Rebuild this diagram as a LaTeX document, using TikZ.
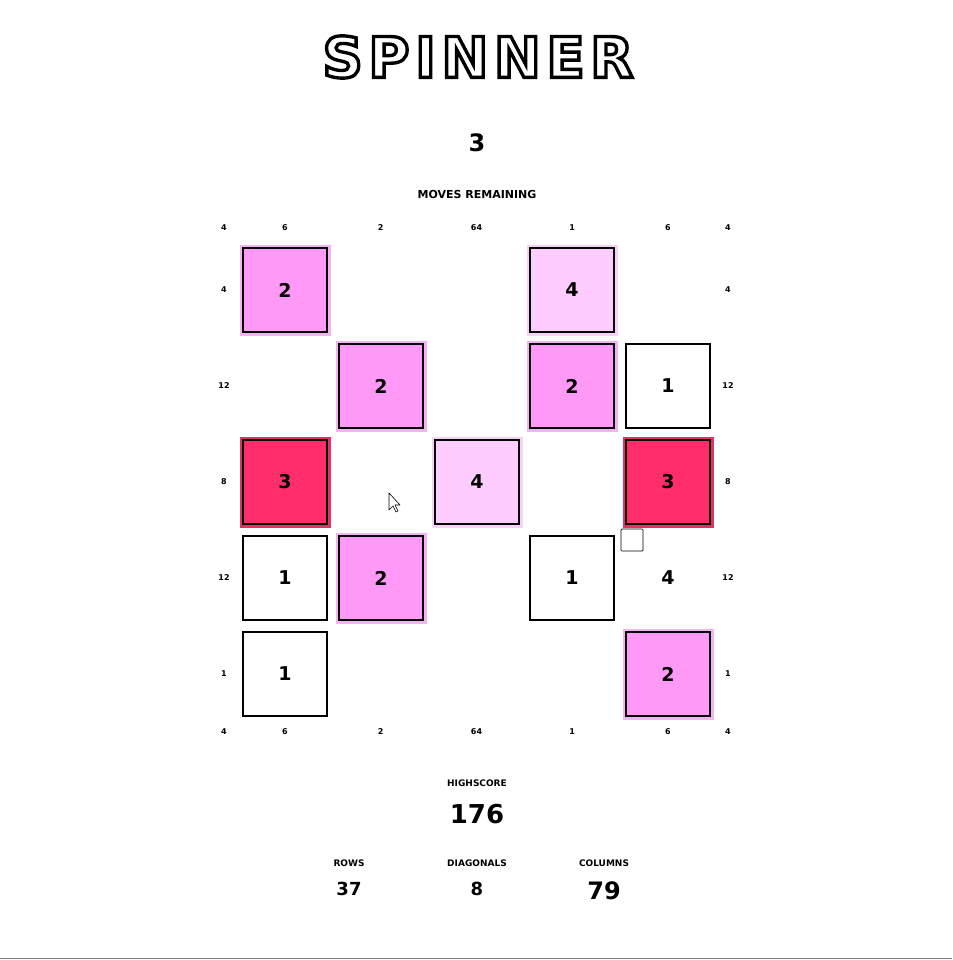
\documentclass[tikz,border=0pt]{standalone}
\usepackage{fontspec}
\setmainfont{DejaVu Sans}
\newfontfamily\titlefont[FakeBold=6,LetterSpace=10]{DejaVu Sans Bold}
\begin{document}
\begin{tikzpicture}[x=1pt,y=-1pt,
 lab/.style={font=\bfseries\fontsize{8}{8}\selectfont},
 tile/.style={draw=black,line width=2pt,minimum size=84pt,inner sep=0pt,font=\bfseries\fontsize{19}{19}\selectfont},
 pk/.style={tile,fill=pinkA,preaction={draw=pinkG,line width=7pt,rounded corners=2pt}},
 lp/.style={tile,fill=pinkL,preaction={draw=pinkLG,line width=7pt,rounded corners=2pt}},
 rd/.style={tile,fill=redA,preaction={draw=redG,line width=7pt,rounded corners=2pt}},
 wt/.style={tile,fill=white}]
\definecolor{pinkA}{HTML}{FF99F7}
\definecolor{pinkG}{HTML}{F2B3EE}
\definecolor{pinkL}{HTML}{FFCCFF}
\definecolor{pinkLG}{HTML}{F7D2F7}
\definecolor{redA}{HTML}{FF2E6B}
\definecolor{redG}{HTML}{E3325F}
\useasboundingbox (0,0) rectangle (952,960);
\fill[white] (0,0) rectangle (952,960);
% title
\node[font=\titlefont\fontsize{56}{56}\selectfont] (title) at (478,57) {\color{white}\special{pdf:code 0 0 0 RG}SPINNER};
\node[font=\bfseries\fontsize{24}{24}\selectfont] (moves) at (477,143) {3};
\node[font=\bfseries\fontsize{11}{11}\selectfont] (movesl) at (477,194) {MOVES REMAINING};
% edge labels
\foreach \t [count=\i] in {6,2,64,1,6}{
 \pgfmathsetmacro\xx{285+95.75*(\i-1)}
 \node[lab] (t\i) at (\xx,228) {\t};
 \node[lab] (b\i) at (\xx,732) {\t};}
\foreach \t [count=\i] in {4,12,8,12,1}{
 \pgfmathsetmacro\yy{290+96*(\i-1)}
 \node[lab] (l\i) at (224,\yy) {\t};
 \node[lab] (r\i) at (728,\yy) {\t};}
\node[lab] (c1) at (224,228) {4};
\node[lab] (c2) at (728,228) {4};
\node[lab] (c3) at (224,732) {4};
\node[lab] (c4) at (728,732) {4};
% tiles
\node[pk] (a11) at (285,290) {2};
\node[lp] (a14) at (572,290) {4};
\node[pk] (a22) at (381,386) {2};
\node[pk] (a24) at (572,386) {2};
\node[wt] (a25) at (668,386) {1};
\node[rd] (a31) at (285,482) {3};
\node[lp] (a33) at (477,482) {4};
\node[rd] (a35) at (668,482) {3};
\node[wt] (a41) at (285,578) {1};
\node[pk] (a42) at (381,578) {2};
\node[wt] (a44) at (572,578) {1};
\node[font=\bfseries\fontsize{19}{19}\selectfont] (a45) at (668,578) {4};
\node[draw=black,line width=0.7pt,minimum size=22pt,inner sep=0pt,rounded corners=1pt] (sq) at (632,540) {};
\node[wt] (a51) at (285,674) {1};
\node[pk] (a55) at (668,674) {2};
% cursor
\draw[fill=white,line width=0.6pt,line join=round] (389,493) -- (389,510) -- (393,506) -- (396,512) -- (398,511) -- (395,505) -- (400,505) -- cycle;
% stats
\node[font=\bfseries\fontsize{9}{9}\selectfont] (hsl) at (477,783) {HIGHSCORE};
\node[font=\bfseries\fontsize{26}{26}\selectfont] (hs) at (477,814) {176};
\node[font=\bfseries\fontsize{9}{9}\selectfont] (rl) at (349,863) {ROWS};
\node[font=\bfseries\fontsize{18}{18}\selectfont] (rv) at (349,889) {37};
\node[font=\bfseries\fontsize{9}{9}\selectfont] (dl) at (477,863) {DIAGONALS};
\node[font=\bfseries\fontsize{18}{18}\selectfont] (dv) at (477,889) {8};
\node[font=\bfseries\fontsize{9}{9}\selectfont] (cl) at (604,863) {COLUMNS};
\node[font=\bfseries\fontsize{24}{24}\selectfont] (cv) at (604,891) {79};
\draw[gray,line width=1pt] (0,958) -- (952,958);
\end{tikzpicture}
\end{document}
